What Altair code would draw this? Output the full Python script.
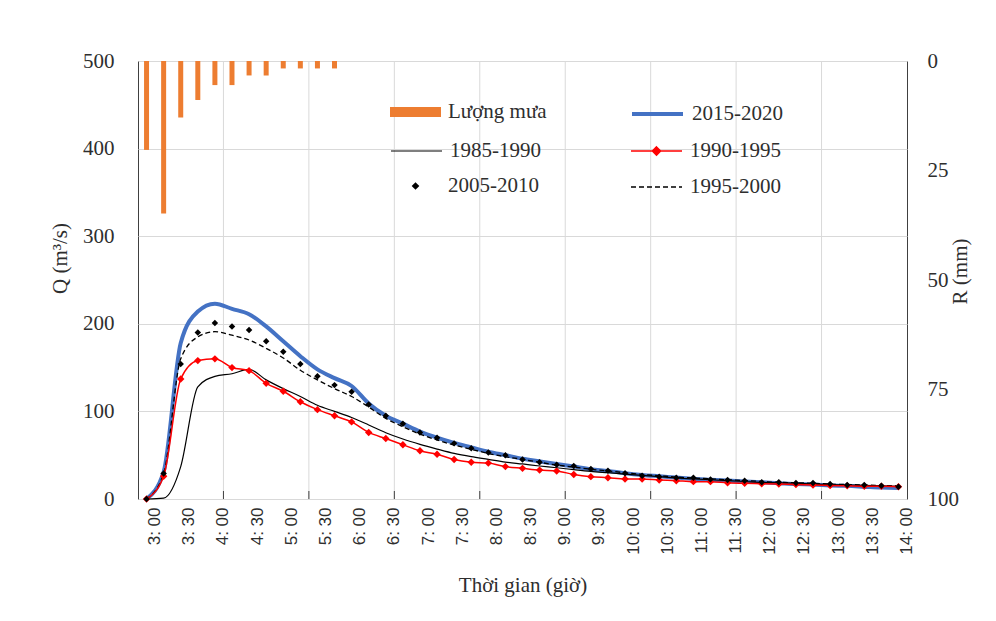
import json
import altair as alt
import pandas as pd

# ---------------- data ----------------
time_labels = ["3:00", "3:15", "3:30", "3:45", "4:00", "4:15", "4:30", "4:45", "5:00", "5:15", "5:30", "5:45",
               "6:00", "6:15", "6:30", "6:45", "7:00", "7:15", "7:30", "7:45", "8:00", "8:15", "8:30", "8:45",
               "9:00", "9:15", "9:30", "9:45", "10:00", "10:15", "10:30", "10:45", "11:00", "11:15", "11:30", "11:45",
               "12:00", "12:15", "12:30", "12:45", "13:00", "13:15", "13:30", "13:45", "14:00"]

rain_times = time_labels[:12]
rain_mm = [20.3, 34.8, 12.9, 8.9, 5.5, 5.5, 3.3, 3.3, 1.7, 1.7, 1.7, 1.7]

q_2015_2020 = [0, 31, 178, 214, 223, 217, 211, 197, 180, 163, 148, 138, 129,
               109, 95, 86, 77, 70, 64, 59, 54, 50, 46, 43, 40,
               37, 34, 32, 29.5, 27.5, 26, 24.5, 23, 22, 21, 20, 19, 18, 17, 16.5, 15.5, 15, 14, 13, 12.5]
q_1985_1990 = [0, 1, 37, 128, 140, 143, 148, 136, 126, 117, 107, 100, 93,
               84.5, 75.7, 68.5, 62.4, 57, 52, 48.3, 45.3, 42.2, 40, 37.7, 35.7,
               33.5, 31.5, 30, 28.5, 27, 25.5, 24, 23, 22, 21, 20, 19, 18.5, 18, 17, 16.5, 16, 15.5, 15, 14.5]
q_1990_1995 = [0, 26, 137, 158, 160, 150, 146.5, 132, 123, 111, 102, 95, 88,
               76, 69, 62, 55, 51, 45, 42, 41, 37, 35, 33, 32,
               28, 25.5, 24.3, 22.8, 22.8, 21.7, 20.9, 19.8, 19.8, 18.6, 17.9,
               17.5, 17, 16.5, 16, 15.5, 15, 14.5, 14.5, 14]
q_2005_2010 = [0, 29, 154, 190, 201, 197, 193, 180, 168, 154, 140, 130, 122.5,
               108, 95, 86, 76, 70, 63.5, 58, 53, 50, 45, 42, 39,
               37.7, 34.2, 32.3, 29.3, 26.6, 25.5, 24.3, 24.3, 22.4, 21.7, 20.9,
               19, 19, 18.3, 18.3, 17.1, 16, 16, 15.2, 14.1]
q_1995_2000 = [0, 29, 160, 185, 191, 187, 181.5, 172, 161, 147, 136, 126, 117,
               105, 92, 82.5, 74, 67.4, 61.6, 56.7, 52, 48.3, 45.3, 41.9, 38.8,
               36.5, 34, 32, 30, 28, 26.5, 25, 24, 23, 22, 21, 20, 19, 18.5, 18, 17, 16.5, 16, 15.5, 15]

q_ticks = [0, 100, 200, 300, 400, 500]
r_ticks = [0, 25, 50, 75, 100]

# ---------------- layout ----------------
W, H = 769, 438
BAND = W / len(time_labels)
SERIF = "Liberation Serif"
TXT = "#2e2e2e"
GRID = "#d9d9d9"

label_vals = time_labels[::2]
grid_vals = time_labels[5::5]   # category boundaries every 5 categories

x_axis = alt.Axis(
    title="Thời gian (giờ)", bandPosition=0, labelOffset=BAND / 2, labelAngle=270,
    labelExpr=f"indexof({json.dumps(label_vals)}, datum.value) >= 0 ? replace(datum.value, ':', ': ') : ''",
    labelFont="Liberation Sans", labelFontSize=17, labelColor=TXT, labelPadding=8, labelOverlap=False,
    ticks=False, domain=False, grid=False,
    titleFont=SERIF, titleFontSize=21, titleFontWeight="normal", titleColor=TXT,
    titleY=86, titleBaseline="middle",
)
x_scale = alt.Scale(type="band", paddingInner=0, paddingOuter=0)

q_axis = alt.Axis(
    title="Q (m³/s)", values=q_ticks, grid=True, gridColor=GRID, ticks=False, domain=False,
    labelFont=SERIF, labelFontSize=21, labelColor=TXT, labelPadding=24,
    titleFont=SERIF, titleFontSize=21, titleFontWeight="normal", titleColor=TXT,
    titleX=-78, titleY=197, titleAngle=270, titleBaseline="middle",
)
q_scale = alt.Scale(domain=[0, 500], nice=False)

r_axis = alt.Axis(
    orient="right", title="R (mm)", values=r_ticks, grid=False, ticks=False, domain=False,
    labelFont=SERIF, labelFontSize=21, labelColor=TXT, labelPadding=20,
    titleFont=SERIF, titleFontSize=21, titleFontWeight="normal", titleColor=TXT,
    titleX=53, titleY=210, titleAngle=270, titleBaseline="middle",
)

SYM = 51 * 51


def leg(x, y, **kw):
    return alt.Legend(orient="none", legendX=x, legendY=y, title=None, padding=0,
                      symbolSize=SYM, labelFont=SERIF, labelFontSize=21, labelColor=TXT,
                      labelOffset=7, **kw)


COL1, COL2 = 252, 492
ROW1, ROW2, ROW3 = 51 - 25.5, 89 - 25.5, 125 - 25.5


def series_df(vals, name):
    return pd.DataFrame({"t": time_labels, "q": vals, "s": name})


x_line = alt.X("t:O", sort=time_labels, scale=x_scale, axis=x_axis, bandPosition=0.5)
x_edge = alt.X("t:O", sort=time_labels, scale=x_scale, axis=x_axis, bandPosition=0)
y_line = alt.Y("q:Q", scale=q_scale, axis=q_axis)

# vertical gridlines and inside tick marks at category boundaries
grid_df = pd.DataFrame({"t": grid_vals})
vgrid = alt.Chart(grid_df).mark_rule(color=GRID, strokeWidth=1).encode(x=x_edge)
vticks = alt.Chart(grid_df).mark_rule(color="#404040", strokeWidth=1).encode(
    x=x_edge, y=alt.value(H), y2=alt.value(H - 8))

# rain bars (right axis)
rain_df = pd.DataFrame({"t": rain_times, "r": rain_mm, "s": "Lượng mưa"})
bars = alt.Chart(rain_df).mark_bar(size=5).encode(
    x=alt.X("t:O", sort=time_labels, scale=x_scale, axis=x_axis),
    y=alt.Y("r:Q", scale=alt.Scale(domain=[0, 100], reverse=True, nice=False), axis=r_axis),
    color=alt.Color("s:N", scale=alt.Scale(range=["#ED7D31"]),
                    legend=leg(COL1, ROW1, symbolType="M-1,-0.2H1V0.2H-1Z",
                               symbolFillColor="#ED7D31", symbolStrokeWidth=0)),
)

blue = alt.Chart(series_df(q_2015_2020, "2015-2020")).mark_line(strokeWidth=4, interpolate="monotone").encode(
    x=x_line, y=y_line,
    color=alt.Color("s:N", scale=alt.Scale(range=["#4472C4"]),
                    legend=leg(COL2, ROW1, symbolType="stroke", symbolStrokeWidth=4,
                               symbolStrokeColor="#4472C4")),
)

dashed = alt.Chart(series_df(q_1995_2000, "1995-2000")).mark_line(
    strokeWidth=1.3, strokeDash=[5, 3], interpolate="monotone").encode(
    x=x_line, y=y_line,
    color=alt.Color("s:N", scale=alt.Scale(range=["#000000"]),
                    legend=leg(COL2, ROW3, symbolType="stroke", symbolStrokeWidth=1.3,
                               symbolDash=[5, 3], symbolStrokeColor="#000000")),
)

thin = alt.Chart(series_df(q_1985_1990, "1985-1990")).mark_line(strokeWidth=1.2, interpolate="monotone").encode(
    x=x_line, y=y_line,
    color=alt.Color("s:N", scale=alt.Scale(range=["#000000"]),
                    legend=leg(COL1, ROW2, symbolType="stroke", symbolStrokeWidth=1.2,
                               symbolStrokeColor="#000000")),
)

red_df = series_df(q_1990_1995, "1990-1995")
red_line = alt.Chart(red_df).mark_line(strokeWidth=1.5, interpolate="monotone").encode(
    x=x_line, y=y_line,
    color=alt.Color("s:N", scale=alt.Scale(range=["#FF0000"]),
                    legend=leg(COL2, ROW2, symbolType="M-1,0H1M0,-0.16L0.16,0L0,0.16L-0.16,0Z",
                               symbolStrokeWidth=1.5, symbolStrokeColor="#FF0000",
                               symbolFillColor="#FF0000")),
)
red_pts = alt.Chart(red_df).mark_point(shape="diamond", filled=True, size=55, color="#FF0000", opacity=1).encode(
    x=x_line, y=y_line,
)

black_pts = alt.Chart(series_df(q_2005_2010, "2005-2010")).mark_point(
    shape="diamond", filled=True, size=42, opacity=1).encode(
    x=x_line, y=y_line,
    color=alt.Color("s:N", scale=alt.Scale(range=["#000000"]),
                    legend=leg(COL1, ROW3, symbolType="M0,-0.15L0.15,0L0,0.15L-0.15,0Z",
                               symbolFillColor="#000000", symbolStrokeWidth=0)),
)

q_layers = alt.layer(blue, dashed, thin, red_line, red_pts, black_pts).resolve_scale(color="independent")

chart = alt.layer(vgrid, vticks, bars, q_layers).resolve_scale(
    y="independent", color="independent"
).properties(
    width=W, height=H,
    autosize=alt.AutoSizeParams(type="none"),
    padding={"left": 130, "top": 53, "right": 80, "bottom": 110},
    background="white",
).configure_view(
    stroke="#404040", strokeWidth=1
)

chart.save("out.html", embed_options={"renderer": "svg", "actions": False})
